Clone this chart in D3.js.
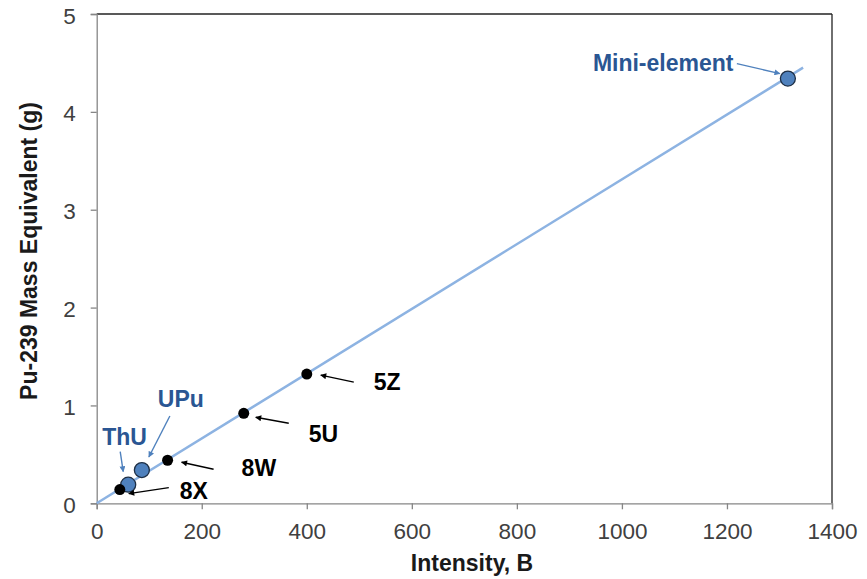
<!DOCTYPE html>
<html>
<head>
<meta charset="utf-8">
<script src="https://cdn.jsdelivr.net/npm/d3@7"></script>
<style>
  html, body { margin: 0; padding: 0; background: #fff; }
  svg { display: block; font-family: "Liberation Sans", Arial, sans-serif; }
</style>
</head>
<body>
<svg id="chart" width="867" height="579"></svg>
<script>
// Calibration samples: measured intensity vs. Pu-239 mass equivalent
const sampleNames = ["8X", "8W", "5U", "5Z"];
const sampleIntensity = [44, 135, 280, 400];
const sampleMass = [0.14, 0.44, 0.92, 1.32];

// Reference standards
const standardNames = ["ThU", "UPu", "Mini-element"];
const standardIntensity = [60, 86, 1316];
const standardMass = [0.19, 0.34, 4.34];

// Linear fit through the origin
const fitSlope = 0.00331;
const fitRange = [0, 1345];

const xTicks = [0, 200, 400, 600, 800, 1000, 1200, 1400];
const yTicks = [0, 1, 2, 3, 4, 5];

// Callout placement, in pixels relative to each marker
const callouts = {
  "8X":           { tail: [49, -2],   head: [9, 4],    text: [60, 9],    anchor: "start" },
  "8W":           { tail: [46, 9],    head: [14, 2],   text: [74, 16],   anchor: "start" },
  "5U":           { tail: [45, 10],   head: [12, 4],   text: [65, 29],   anchor: "start" },
  "5Z":           { tail: [47, 8],    head: [14, 1],   text: [67, 16],   anchor: "start" },
  "ThU":          { tail: [-8, -33],  head: [-5, -13], text: [-26, -40], anchor: "start" },
  "UPu":          { tail: [28, -54],  head: [7, -13],  text: [16, -63],  anchor: "start" },
  "Mini-element": { tail: [-51, -15], head: [-8, -5],  text: [-195, -8], anchor: "start" }
};

const W = 867, H = 579;
const svg = d3.select("#chart");

const x = d3.scaleLinear().domain([0, 1400]).range([96.7, 832]);
const y = d3.scaleLinear().domain([0, 5]).range([503.3, 14]);

const axisGray = "#868686";
const tickText = "#404040";
const labelSize = 23;

// arrowheads
const defs = svg.append("defs");
function marker(id, color) {
  defs.append("marker")
    .attr("id", id)
    .attr("viewBox", "0 0 10 10")
    .attr("refX", 9).attr("refY", 5)
    .attr("markerWidth", 7).attr("markerHeight", 6)
    .attr("markerUnits", "userSpaceOnUse")
    .attr("orient", "auto")
    .append("path").attr("d", "M0,0 L10,5 L0,10 Z").attr("fill", color);
}
marker("arrowBlack", "#000");
marker("arrowBlue", "#4F81BD");

// plot frame: dark top/right edges
svg.append("line").attr("x1", x(0)).attr("x2", x(1400)).attr("y1", y(5)).attr("y2", y(5))
  .attr("stroke", "#222").attr("stroke-width", 1.3);
svg.append("line").attr("x1", x(1400)).attr("x2", x(1400)).attr("y1", y(5)).attr("y2", y(0))
  .attr("stroke", "#222").attr("stroke-width", 1.3);

// axes
const xAxis = svg.append("g").attr("transform", `translate(0,${y(0)})`)
  .call(d3.axisBottom(x).tickValues(xTicks).tickSize(6).tickPadding(9).tickFormat(d3.format("d")));
const yAxis = svg.append("g").attr("transform", `translate(${x(0)},0)`)
  .call(d3.axisLeft(y).tickValues(yTicks).tickSize(6).tickPadding(15).tickFormat(d3.format("d")));
[xAxis, yAxis].forEach(g => {
  g.select(".domain").attr("stroke", axisGray).attr("stroke-width", 1.3);
  g.selectAll(".tick line").attr("stroke", axisGray).attr("stroke-width", 1.3);
  g.selectAll(".tick text").attr("fill", tickText).attr("font-size", 22.5)
    .attr("font-family", "Liberation Sans, Arial, sans-serif");
});
xAxis.selectAll(".tick text").attr("dy", "0.9em");
yAxis.selectAll(".tick text").attr("dy", "0.4em");

// axis titles
svg.append("text").attr("x", 472).attr("y", 571)
  .attr("text-anchor", "middle").attr("font-weight", "bold").attr("font-size", labelSize)
  .attr("fill", "#1a1a1a").text("Intensity, B");
svg.append("text")
  .attr("transform", `translate(37,251) rotate(-90)`)
  .attr("text-anchor", "middle").attr("font-weight", "bold").attr("font-size", labelSize)
  .attr("fill", "#1a1a1a").text("Pu-239 Mass Equivalent (g)");

// fitted line
svg.append("line")
  .attr("x1", x(fitRange[0])).attr("y1", y(fitRange[0] * fitSlope))
  .attr("x2", x(fitRange[1])).attr("y2", y(fitRange[1] * fitSlope))
  .attr("stroke", "#8DB3E2").attr("stroke-width", 2.5);

const samples = sampleNames.map((n, i) => ({ name: n, xv: sampleIntensity[i], yv: sampleMass[i], kind: "sample" }));
const standards = standardNames.map((n, i) => ({ name: n, xv: standardIntensity[i], yv: standardMass[i], kind: "standard" }));

// markers
svg.append("g").selectAll("circle").data(standards).join("circle")
  .attr("cx", d => x(d.xv)).attr("cy", d => y(d.yv)).attr("r", 7.5)
  .attr("fill", "#4F81BD").attr("stroke", "#1E2F45").attr("stroke-width", 1.3);
svg.append("g").selectAll("circle").data(samples).join("circle")
  .attr("cx", d => x(d.xv)).attr("cy", d => y(d.yv)).attr("r", 5.5)
  .attr("fill", "#000");

// callouts
const all = samples.concat(standards);
const cg = svg.append("g");
all.forEach(d => {
  const c = callouts[d.name];
  const px = x(d.xv), py = y(d.yv);
  const blue = d.kind === "standard";
  cg.append("line")
    .attr("x1", px + c.tail[0]).attr("y1", py + c.tail[1])
    .attr("x2", px + c.head[0]).attr("y2", py + c.head[1])
    .attr("stroke", blue ? "#4F81BD" : "#000").attr("stroke-width", 1.4)
    .attr("marker-end", blue ? "url(#arrowBlue)" : "url(#arrowBlack)");
  cg.append("text")
    .attr("x", px + c.text[0]).attr("y", py + c.text[1])
    .attr("text-anchor", c.anchor).attr("font-weight", "bold").attr("font-size", labelSize)
    .attr("fill", blue ? "#2A5693" : "#000").text(d.name);
});
</script>
</body>
</html>
